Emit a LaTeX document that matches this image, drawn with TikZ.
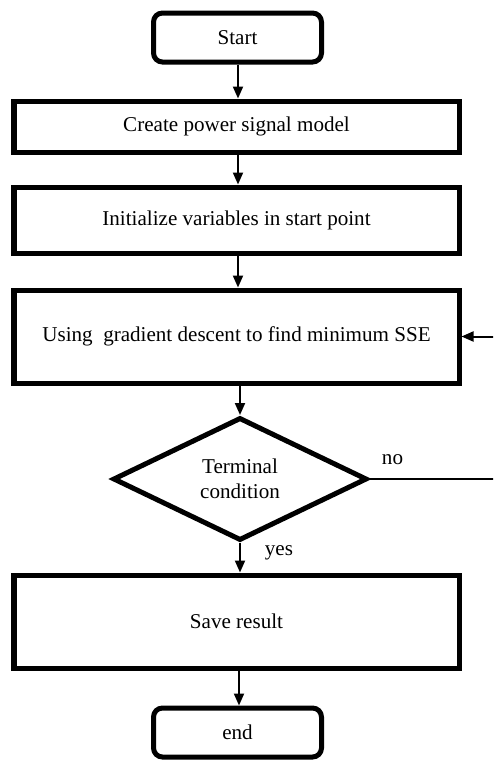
\documentclass[tikz,border=0pt]{standalone}
\usepackage{fontspec}
\setmainfont{Liberation Serif}
\usetikzlibrary{shapes.geometric,arrows.meta}
\tikzset{
  termbox/.style={draw,line width=0.1cm,rounded corners=0.18cm,minimum width=3.36cm,minimum height=0.98cm,inner sep=0pt,font=\fontsize{12}{14}\selectfont},
  stepbox/.style={draw,line width=0.1cm,minimum width=8.9cm,inner sep=0pt,font=\fontsize{12}{14}\selectfont},
  testbox/.style={draw,diamond,line width=0.1cm,minimum width=5.08cm,minimum height=2.46cm,inner sep=0pt,align=center,font=\fontsize{12}{14}\selectfont},
  flow/.style={line width=0.04cm,-{Triangle[length=0.24cm,width=0.2cm]}}
}
\begin{document}
\begin{tikzpicture}
  \clip (0,0) rectangle (9.86,-15.2);
  \node[termbox] (start) at (4.75,-0.75) {Start};
  \node[stepbox,minimum height=1.02cm] (model) at (4.73,-2.53) {Create power signal model};
  \node[stepbox,minimum height=1.32cm] (init) at (4.73,-4.4) {Initialize variables in start point};
  \node[stepbox,minimum height=1.86cm] (sse) at (4.73,-6.73) {Using~ gradient descent to find minimum SSE};
  \node[testbox] (cond) at (4.8,-9.58) {Terminal\\condition};
  \node[stepbox,minimum height=1.86cm] (save) at (4.73,-12.43) {Save result};
  \node[termbox] (end) at (4.75,-14.65) {end};
  %\node at (4.8,-16) {};
  \draw[flow] (start.south -| 4.76,0) -- (model.north -| 4.76,0);
  \draw[flow] (model.south -| 4.76,0) -- (init.north -| 4.76,0);
  \draw[flow] (init.south -| 4.76,0) -- (sse.north -| 4.76,0);
  \draw[flow] (sse.south -| 4.8,0) -- (cond.north);
  \draw[flow] (cond.south) -- (save.north -| 4.8,0);
  \draw[flow] (save.south -| 4.78,0) -- (end.north -| 4.78,0);
  \coordinate (loop) at (10.4,-9.58);
  \draw[flow] (cond.east) -- (loop) |- (sse.east);
  \node[font=\fontsize{12}{14}\selectfont] (no) at (7.85,-9.2) {no};
  \node[font=\fontsize{12}{14}\selectfont] (yes) at (5.58,-11.05) {yes};
\end{tikzpicture}
\end{document}
